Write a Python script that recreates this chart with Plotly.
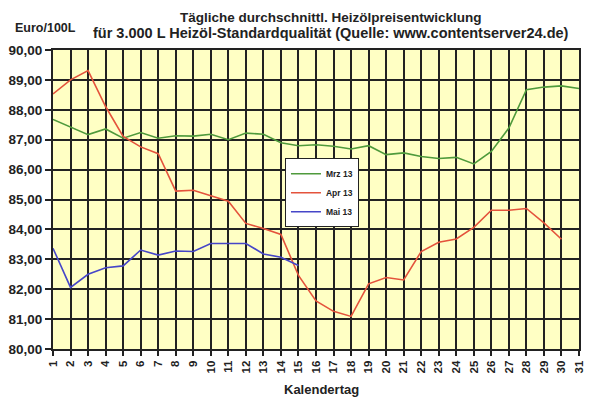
import plotly.graph_objects as go

# Kalendertage 1..31 und Tagespreise in Euro/100L
days = list(range(1, 32))
day_labels = [str(d) for d in days]

mrz13 = [87.68, 87.42, 87.17, 87.36, 87.05, 87.24, 87.05, 87.13, 87.12, 87.18,
         87.00, 87.22, 87.18, 86.90, 86.80, 86.83, 86.78, 86.69, 86.80, 86.50,
         86.56, 86.44, 86.37, 86.41, 86.19, 86.61, 87.39, 88.67, 88.76, 88.80,
         88.71]
apr13 = [88.53, 89.00, 89.31, 88.11, 87.11, 86.76, 86.53, 85.28, 85.31, 85.13,
         84.94, 84.20, 84.03, 83.83, 82.46, 81.61, 81.26, 81.09, 82.18, 82.39,
         82.31, 83.26, 83.57, 83.68, 84.07, 84.64, 84.64, 84.70, 84.22, 83.67]
mai13 = [83.37, 82.06, 82.50, 82.72, 82.78, 83.31, 83.14, 83.28, 83.26, 83.53,
         83.53, 83.53, 83.18, 83.07, 82.79]

y_ticks = [80, 81, 82, 83, 84, 85, 86, 87, 88, 89, 90]
y_tick_labels = ["80,00", "81,00", "82,00", "83,00", "84,00", "85,00",
                 "86,00", "87,00", "88,00", "89,00", "90,00"]

series = [
    ("Mrz 13", mrz13, "#4f9a3c"),
    ("Apr 13", apr13, "#e4533c"),
    ("Mai 13", mai13, "#4646c8"),
]

fig = go.Figure()
for name, values, color in series:
    fig.add_trace(go.Scatter(
        x=days[:len(values)], y=values, mode="lines", name=name,
        line=dict(color=color, width=1.6),
    ))

font = "Liberation Sans, Arial, sans-serif"
bold = dict(family=font, weight="bold", color="#222")

# the page body adds 8px around the figure, so margins are 8px smaller
fig.update_layout(
    width=587, height=392,
    margin=dict(l=45, r=16, t=42, b=51),
    paper_bgcolor="white",
    plot_bgcolor="#ffffc4",
    font=dict(family=font, size=11, color="#222"),
    showlegend=True,
    legend=dict(
        x=0.441, y=0.638, xanchor="left", yanchor="top",
        bgcolor="white", bordercolor="#222", borderwidth=1,
        font=dict(size=8.5, **bold),
        tracegroupgap=0,
    ),
    xaxis=dict(
        range=[1, 31], tickmode="array", tickvals=days, ticktext=day_labels,
        tickangle=-90, showgrid=True, gridcolor="#222", gridwidth=2,
        ticks="outside", ticklen=5, tickcolor="#222", tickwidth=1.5,
        tickfont=dict(size=11.5, **bold),
        showline=True, linecolor="#222", linewidth=2, mirror=True,
        zeroline=False, automargin=False,
    ),
    yaxis=dict(
        range=[80, 90], tickmode="array", tickvals=y_ticks, ticktext=y_tick_labels,
        showgrid=True, gridcolor="#222", gridwidth=2,
        ticks="outside", ticklen=6, tickcolor="#222", tickwidth=1.5,
        tickfont=dict(size=13.5, **bold),
        showline=True, linecolor="#222", linewidth=2, mirror=True,
        zeroline=False, automargin=False,
    ),
    annotations=[
        dict(text="Tägliche durchschnittl. Heizölpreisentwicklung",
             x=0.529, y=1.11, xref="paper", yref="paper", showarrow=False,
             xanchor="center", yanchor="middle",
             font=dict(size=13.5, **bold)),
        dict(text="für 3.000 L Heizöl-Standardqualität (Quelle: www.contentserver24.de)",
             x=0.529, y=1.057, xref="paper", yref="paper", showarrow=False,
             xanchor="center", yanchor="middle",
             font=dict(size=14.5, **bold)),
        dict(text="Euro/100L", x=-0.076, y=1.072, xref="paper", yref="paper",
             showarrow=False, xanchor="left", yanchor="middle",
             font=dict(size=12.5, **bold)),
        dict(text="Kalendertag", x=0.511, y=-0.134, xref="paper", yref="paper",
             showarrow=False, xanchor="center", yanchor="middle",
             font=dict(size=13, **bold)),
    ],
)

fig.write_html("out.html")
